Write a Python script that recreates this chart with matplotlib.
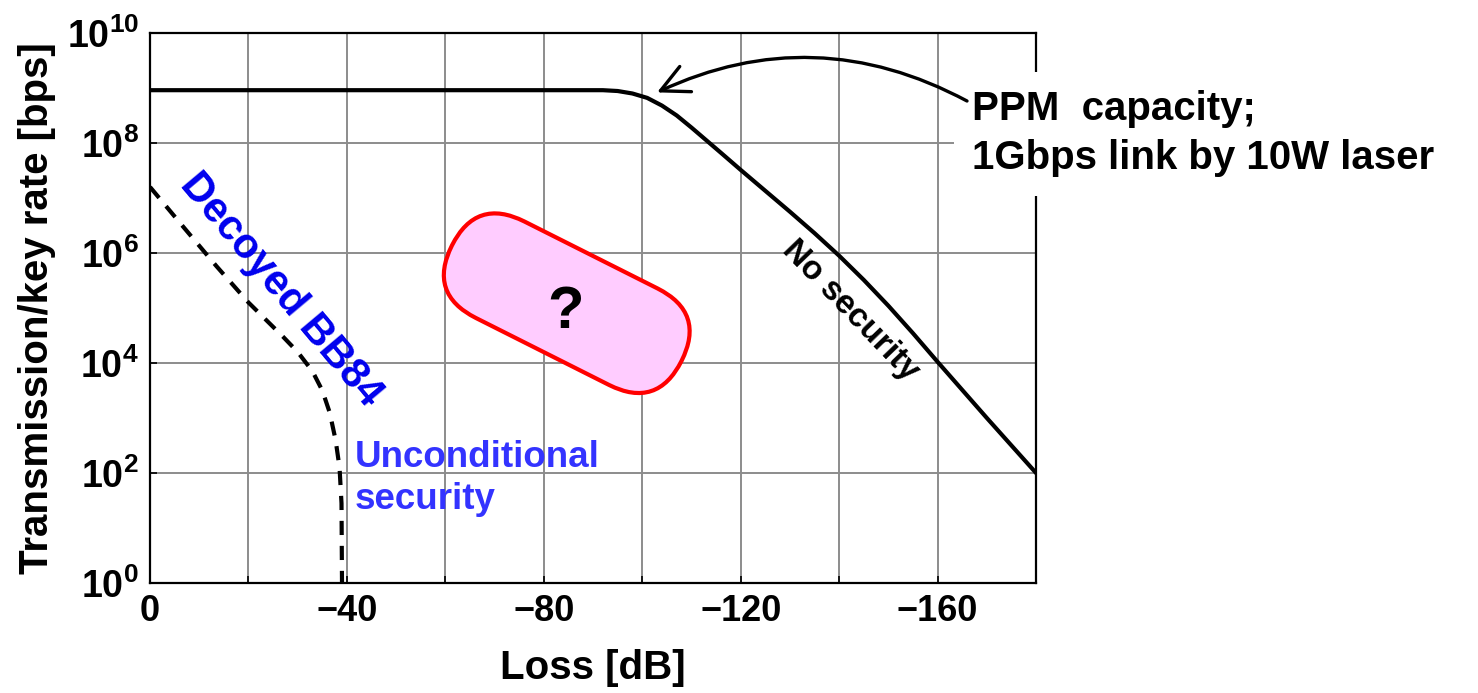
import matplotlib
matplotlib.use("Agg")
import matplotlib.pyplot as plt
import numpy as np
from matplotlib.patches import FancyBboxPatch, ConnectionPatch
from matplotlib.transforms import Affine2D, ScaledTranslation

# ---------------- data ----------------
ppm_loss = [0, -92, -95, -98, -101, -104, -107, -110, -113, -116, -120, -125, -130,
            -135, -140, -145, -150, -155, -160, -170, -180]
ppm_log_rate = [8.96, 8.96, 8.945, 8.9, 8.82, 8.68, 8.5, 8.28, 8.05, 7.82, 7.51, 7.13, 6.75,
                6.36, 5.95, 5.51, 5.04, 4.54, 4.02, 3.0, 2.0]

bb84_loss = [0, -7, -13.5, -20, -27, -30, -33, -35, -36.5, -37.7, -38.5, -38.9, -39.0]
bb84_log_rate = [7.2, 6.45, 5.76, 5.1, 4.48, 4.2, 3.85, 3.5, 3.1, 2.6, 2.1, 1.45, 0.0]

x_ticks = [0, -20, -40, -60, -80, -100, -120, -140, -160, -180]
x_tick_labels = ["0", "", "\u221240", "", "\u221280", "", "\u2212120", "", "\u2212160", ""]
y_exponents = [0, 2, 4, 6, 8, 10]

# ---------------- style ----------------
plt.rcParams['font.family'] = ['Liberation Sans', 'DejaVu Sans']
plt.rcParams['font.weight'] = 'bold'
plt.rcParams['mathtext.fontset'] = 'custom'
plt.rcParams['mathtext.rm'] = 'Liberation Sans:bold'
plt.rcParams['mathtext.it'] = 'Liberation Sans:bold'
plt.rcParams['mathtext.bf'] = 'Liberation Sans:bold'
plt.rcParams['mathtext.default'] = 'rm'

fig = plt.figure(figsize=(14.78, 6.93), dpi=100)
ax = fig.add_axes([0.1015, 0.1587, 0.5995, 0.7937])

ax.set_yscale('log')
ax.set_xlim(0, -180)
ax.set_ylim(1, 1e10)

ppm_rate = [10 ** v for v in ppm_log_rate]
bb84_rate = [10 ** v for v in bb84_log_rate]

ax.plot(ppm_loss, ppm_rate, color='black', lw=3.0, zorder=3, solid_joinstyle='round')
ax.plot(bb84_loss, bb84_rate, color='black', lw=3.0, zorder=3,
        linestyle=(0, (3.4, 2.6)), dash_capstyle='butt')

ax.set_xticks(x_ticks)
ax.set_xticklabels(x_tick_labels)
ax.set_yticks([10 ** e for e in y_exponents])
ax.set_yticklabels([r'$10^{%d}$' % e for e in y_exponents])
ax.yaxis.set_minor_locator(matplotlib.ticker.NullLocator())

ax.tick_params(axis='x', labelsize=26, direction='in', length=5, width=1.2, pad=8)
ax.tick_params(axis='y', labelsize=27, direction='in', length=5, width=1.2, pad=8)

ax.grid(True, which='major', color='#8c8c8c', lw=1.4, zorder=0)
ax.set_axisbelow(True)
for s in ax.spines.values():
    s.set_linewidth(1.6)
    s.set_color('black')

ax.set_xlabel('Loss [dB]', fontsize=29, fontweight='bold', labelpad=14)
ax.set_ylabel('Transmission/key rate [bps]', fontsize=29, fontweight='bold', labelpad=8)

# ---------------- annotations ----------------
ax.text(-26.6, 10 ** 5.33, 'Decoyed BB84', color='#0000ee', fontsize=30, fontweight='bold',
        rotation=-50, ha='center', va='center', rotation_mode='anchor', zorder=4)
ax.text(-41.6, 10 ** 2.6, 'Unconditional\nsecurity', color='#3333ff', fontsize=26.5,
        fontweight='bold', ha='left', va='top', linespacing=1.25, zorder=4)
ax.text(-142.3, 10 ** 4.95, 'No security', color='black', fontsize=24, fontweight='bold',
        rotation=-46, ha='center', va='center', rotation_mode='anchor', zorder=4)

# pink stadium with "?"
L_in, r_in = 1.49, 0.54
stadium = FancyBboxPatch((-L_in / 2 - r_in, -r_in), L_in + 2 * r_in, 2 * r_in,
                         boxstyle=f"round,pad=0,rounding_size={r_in}",
                         facecolor='#ffccff', edgecolor='#ff0000', lw=3.0,
                         clip_on=False, zorder=3)
stadium.set_transform(Affine2D().rotate_deg(-26.7) + fig.dpi_scale_trans +
                      ScaledTranslation(0.4703, 0.5087, ax.transAxes))
ax.add_patch(stadium)
ax.text(-84.4, 10 ** 4.64, '?', fontsize=43, fontweight='bold', color='black',
        ha='center', va='baseline', zorder=4)

# PPM label outside the axes
fig.text(972 / 1478, 1 - 90 / 693, 'PPM  capacity;\n1Gbps link by 10W laser',
         fontsize=29, fontweight='bold', ha='left', va='top', linespacing=1.38,
         bbox=dict(boxstyle='square,pad=0.45', facecolor='white', edgecolor='none'),
         zorder=3)

arrow = ConnectionPatch(xyA=(967, 693 - 101), coordsA='figure pixels',
                        xyB=(-103, 10 ** 8.92), coordsB='data', axesB=ax,
                        arrowstyle='->,head_length=0.8,head_width=0.4',
                        mutation_scale=25, connectionstyle='arc3,rad=0.25',
                        lw=2.4, color='black', shrinkA=0, shrinkB=0, zorder=5)
fig.add_artist(arrow)

fig.savefig('out.png', dpi=100)
